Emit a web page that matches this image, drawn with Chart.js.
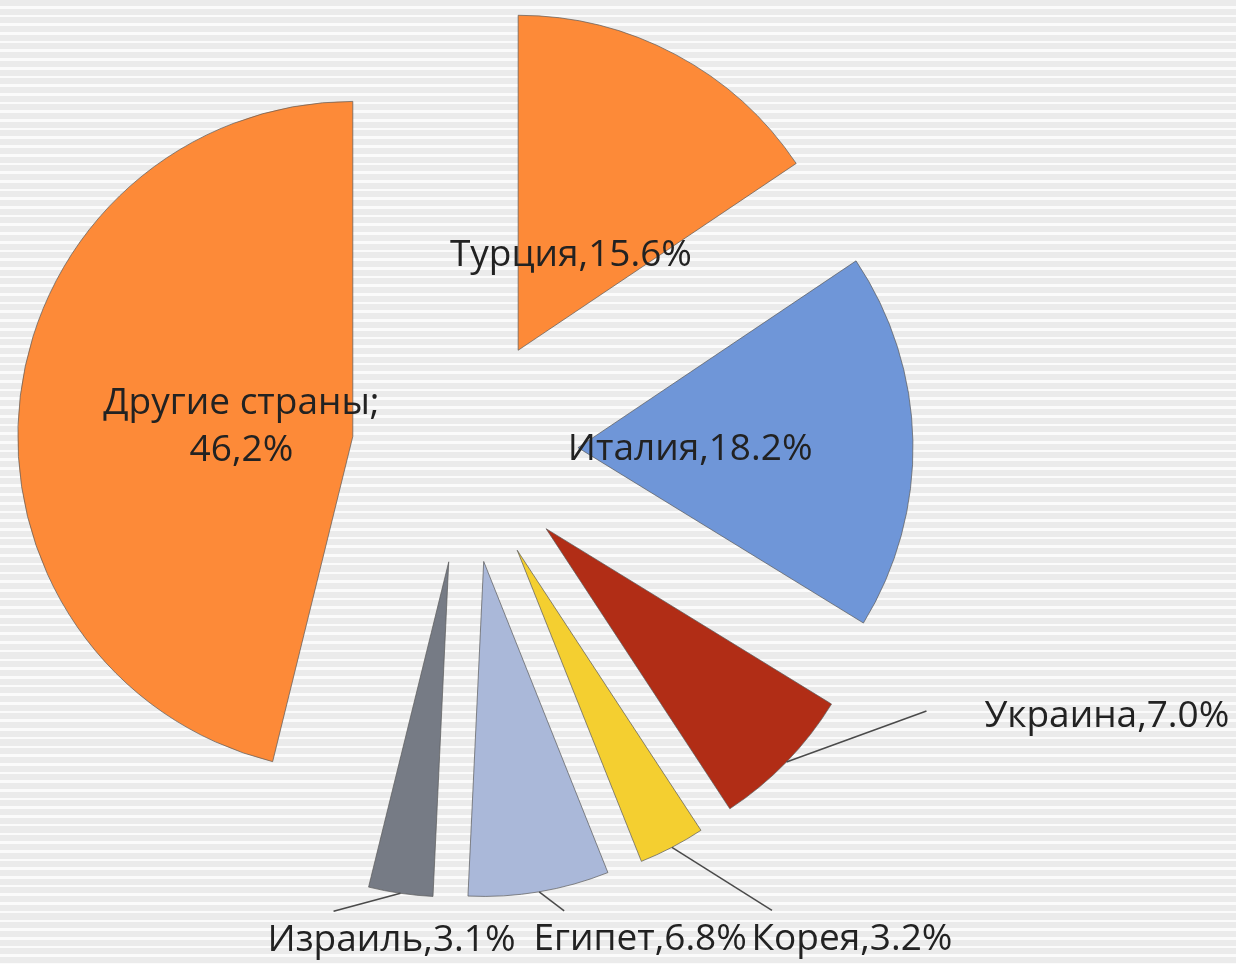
<!DOCTYPE html>
<html lang="ru">
<head>
<meta charset="utf-8">
<title>Страны</title>
<script src="https://cdn.jsdelivr.net/npm/chart.js@4/dist/chart.umd.min.js"></script>
<style>
  html, body { margin: 0; padding: 0; }
  body {
    width: 1236px; height: 964px; overflow: hidden;
    background: repeating-linear-gradient(to bottom, #ebebeb 0px, #ebebeb 6px, #fbfbfb 6px, #fbfbfb 8.7px);
  }
  #wrap { position: relative; width: 1236px; height: 964px; }
</style>
</head>
<body>
<div id="wrap"><canvas id="pieChart"></canvas></div>
<script>
// данные
const countries = ['Турция', 'Италия', 'Украина', 'Корея', 'Египет', 'Израиль', 'Другие страны'];
const shares = [15.6, 18.2, 7.0, 3.2, 6.8, 3.1, 46.2];
const shareText = ['15.6%', '18.2%', '7.0%', '3.2%', '6.8%', '3.1%', '46,2%'];
const separators = [',', ',', ',', ',', ',', ',', ';\n'];

const sliceColors = ['#fd8a38', '#6f96d8', '#b12d16', '#f4cf30', '#aab8d9', '#767b85', '#fd8a38'];

// разнос секторов (как в Excel: каждый сектор сдвинут от центра, радиус тот же)
const EXPLODE = 113;
const RADIUS = 335;

// подписи: inside = внутри сектора, иначе выноска
const labelPlace = [
    { inside: true },
    { inside: true },
    { leader: [140, -51], text: [198, -46], align: 'left' },
    { leader: [100, 63], text: [180, 92], align: 'center' },
    { leader: [25, 19], text: [101, 48], align: 'center' },
    { leader: [-67, 18], text: [-9, 47], align: 'center' },
    { inside: true },
];

// offset из chart.js меняет и радиус, и угол сектора, поэтому сдвигаем центр сами
const explode = {
    id: 'explode',
    afterDatasetUpdate(chart, args) {
        const meta = chart.getDatasetMeta(args.index);
        meta.data.forEach(arc => {
            const mid = (arc.startAngle + arc.endAngle) / 2;
            arc.x += Math.cos(mid) * EXPLODE;
            arc.y += Math.sin(mid) * EXPLODE;
        });
    }
};

const sliceLabels = {
    id: 'sliceLabels',
    afterDatasetsDraw(chart) {
        const ctx = chart.ctx;
        const meta = chart.getDatasetMeta(0);
        ctx.save();
        ctx.font = '37px "Open Sans"';
        ctx.fillStyle = '#222';
        ctx.strokeStyle = '#4a4a4a';
        ctx.lineWidth = 1.5;
        ctx.textBaseline = 'middle';
        meta.data.forEach((arc, i) => {
            const mid = (arc.startAngle + arc.endAngle) / 2;
            const r = arc.outerRadius;
            const text = countries[i] + separators[i] + shareText[i];
            const place = labelPlace[i];
            if (place.inside) {
                const lx = arc.x + Math.cos(mid) * r * 0.335;
                const ly = arc.y + Math.sin(mid) * r * 0.335 + 4;
                const lines = text.split('\n');
                ctx.textAlign = 'center';
                lines.forEach((ln, k) => {
                    ctx.fillText(ln, lx, ly + (k - (lines.length - 1) / 2) * 47);
                });
            } else {
                const sx = arc.x + Math.cos(mid) * r;
                const sy = arc.y + Math.sin(mid) * r;
                ctx.beginPath();
                ctx.moveTo(sx, sy);
                ctx.lineTo(sx + place.leader[0], sy + place.leader[1]);
                ctx.stroke();
                ctx.textAlign = place.align;
                ctx.fillText(text, sx + place.text[0], sy + place.text[1]);
            }
        });
        ctx.restore();
    }
};

const ctx = document.getElementById('pieChart').getContext('2d');

new Chart(ctx, {
    type: 'pie',
    data: {
        labels: countries,
        datasets: [{
            data: shares,
            backgroundColor: sliceColors,
            borderColor: 'rgba(90, 90, 90, 0.7)',
            borderWidth: 1,
            radius: RADIUS,
        }],
    },
    options: {
        responsive: true,
        maintainAspectRatio: false,
        animation: false,
        layout: {
            padding: { left: 0, top: 0, right: 306, bottom: 64 },
        },
        plugins: {
            legend: { display: false },
            tooltip: { enabled: false },
        },
    },
    plugins: [explode, sliceLabels],
});
</script>
</body>
</html>
